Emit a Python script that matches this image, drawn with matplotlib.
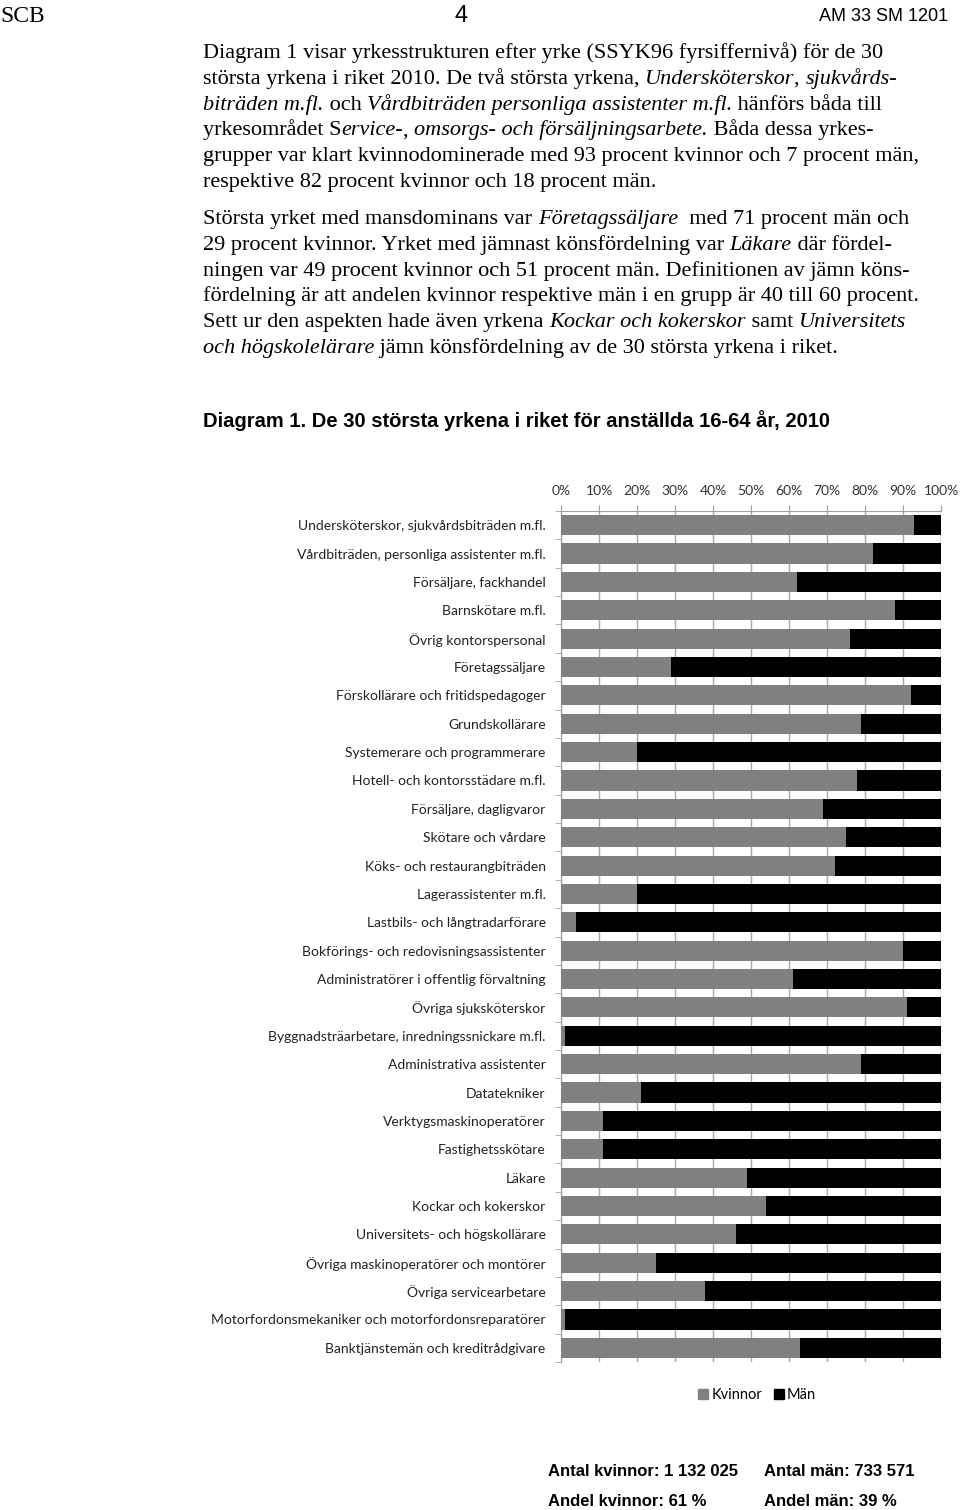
import matplotlib
matplotlib.use("Agg")
import matplotlib.pyplot as plt
from matplotlib.patches import Patch

W, H = 960, 1510
SERIF = ["Liberation Serif", "DejaVu Serif"]
NARROW = ["Liberation Sans Narrow", "Liberation Sans", "DejaVu Sans"]
CHART = ["Lato", "DejaVu Sans"]

occupations = [
    "Undersköterskor, sjukvårdsbiträden m.fl.",
    "Vårdbiträden, personliga assistenter m.fl.",
    "Försäljare, fackhandel",
    "Barnskötare m.fl.",
    "Övrig kontorspersonal",
    "Företagssäljare",
    "Förskollärare och fritidspedagoger",
    "Grundskollärare",
    "Systemerare och programmerare",
    "Hotell- och kontorsstädare m.fl.",
    "Försäljare, dagligvaror",
    "Skötare och vårdare",
    "Köks- och restaurangbiträden",
    "Lagerassistenter m.fl.",
    "Lastbils- och långtradarförare",
    "Bokförings- och redovisningsassistenter",
    "Administratörer i offentlig förvaltning",
    "Övriga sjuksköterskor",
    "Byggnadsträarbetare, inredningssnickare m.fl.",
    "Administrativa assistenter",
    "Datatekniker",
    "Verktygsmaskinoperatörer",
    "Fastighetsskötare",
    "Läkare",
    "Kockar och kokerskor",
    "Universitets- och högskollärare",
    "Övriga maskinoperatörer och montörer",
    "Övriga servicearbetare",
    "Motorfordonsmekaniker och motorfordonsreparatörer",
    "Banktjänstemän och kreditrådgivare",
]
kvinnor = [93, 82, 62, 88, 76, 29, 92, 79, 20, 78, 69, 75, 72, 20, 4,
           90, 61, 91, 1, 79, 21, 11, 11, 49, 54, 46, 25, 38, 1, 63]
man = [100 - k for k in kvinnor]

N, I = "normal", "italic"
para1 = [
    [("Diagram 1 visar yrkesstrukturen efter yrke (SSYK96 fyrsiffernivå) för de 30", N)],
    [("största yrkena i riket 2010. De två största yrkena, ", N), ("Undersköterskor", I), (", ", N),
     ("sjukvårds-", I)],
    [("biträden m.fl.", I), (" och ", N), ("Vårdbiträden personliga assistenter m.fl.", I),
     (" hänförs båda till", N)],
    [("yrkesområdet S", N), ("ervice-", I), (", ", N), ("omsorgs- och försäljningsarbete.", I),
     (" Båda dessa yrkes-", N)],
    [("grupper var klart kvinnodominerade med 93 procent kvinnor och 7 procent män,", N)],
    [("respektive 82 procent kvinnor och 18 procent män.", N)],
]
para2 = [
    [("Största yrket med mansdominans var ", N), ("Företagssäljare", I), ("  med 71 procent män och", N)],
    [("29 procent kvinnor. Yrket med jämnast könsfördelning var ", N), ("Läkare", I),
     (" där fördel-", N)],
    [("ningen var 49 procent kvinnor och 51 procent män. Definitionen av jämn köns-", N)],
    [("fördelning är att andelen kvinnor respektive män i en grupp är 40 till 60 procent.", N)],
    [("Sett ur den aspekten hade även yrkena ", N), ("Kockar och kokerskor", I), (" samt ", N),
     ("Universitets", I)],
    [("och högskolelärare", I), (" jämn könsfördelning av de 30 största yrkena i riket.", N)],
]


def fx(x):
    return x / W


def fy(y):
    return 1 - y / H


def text_width(fig, r, s, **kw):
    # pad with 'x' so leading/trailing spaces are counted
    t1 = fig.text(0, 0, "x" + s + "x", **kw)
    t2 = fig.text(0, 0, "xx", **kw)
    w = t1.get_window_extent(r).width - t2.get_window_extent(r).width
    t1.remove(); t2.remove()
    return w


def draw_line(fig, r, x, y, segs, size):
    for s, style in segs:
        kw = dict(fontsize=size, family=SERIF, style=style)
        fig.text(fx(x), fy(y), s, va="baseline", ha="left", **kw)
        x += text_width(fig, r, s, **kw)


def main():
    fig = plt.figure(figsize=(W / 100, H / 100), dpi=100)
    r = fig.canvas.get_renderer()

    # page header
    fig.text(fx(0), fy(22), "SCB", fontsize=17, family=SERIF, va="baseline")
    fig.text(fx(461), fy(22), "4", fontsize=17, family=NARROW, va="baseline", ha="center")
    fig.text(fx(948), fy(21), "AM 33 SM 1201", fontsize=13, family=NARROW, va="baseline", ha="right")

    # body text
    for i, segs in enumerate(para1):
        draw_line(fig, r, 203, 58 + i * 25.8, segs, 16)
    for i, segs in enumerate(para2):
        draw_line(fig, r, 203, 224 + i * 25.8, segs, 16)

    fig.text(fx(203), fy(427), "Diagram 1. De 30 största yrkena i riket för anställda 16-64 år, 2010",
             fontsize=14.5, family=NARROW, weight="bold", va="baseline")

    # chart
    ax = fig.add_axes([fx(561), fy(1362), (941 - 561) / W, (1362 - 511) / H])
    y = range(len(occupations))
    ax.barh(y, kvinnor, height=0.71, color="#808080", label="Kvinnor", zorder=3)
    ax.barh(y, man, left=kvinnor, height=0.71, color="#000000", label="Män", zorder=3)
    ax.set_xlim(0, 100)
    ax.set_ylim(len(occupations) - 0.5, -0.5)
    ax.xaxis.tick_top()
    ax.set_xticks(range(0, 101, 10))
    ax.set_xticklabels([f"{v}%" for v in range(0, 101, 10)], fontsize=10, family=CHART, color="#333333")
    ax.tick_params(axis="x", length=4, color="#a0a0a0", pad=6)
    ax.set_yticks(list(y))
    ax.set_yticklabels(occupations, fontsize=10, family=CHART, color="#222222")
    ax.tick_params(axis="y", which="major", length=0, pad=11)
    ax.set_yticks([i - 0.5 for i in range(len(occupations) + 1)], minor=True)
    ax.tick_params(axis="y", which="minor", length=4, color="#a0a0a0")
    ax.grid(axis="x", color="#a8a8a8", lw=1, zorder=0)
    ax.set_axisbelow(True)
    for side in ("right", "bottom"):
        ax.spines[side].set_visible(False)
    for side in ("top", "left"):
        ax.spines[side].set_color("#a0a0a0")

    handles = [Patch(color="#808080", label="Kvinnor"), Patch(color="#000000", label="Män")]
    fig.legend(handles=handles, loc="center", bbox_to_anchor=(fx(757), fy(1395)), ncol=2,
               frameon=False, handlelength=0.7, handleheight=0.7, handletextpad=0.2,
               columnspacing=0.8, prop={"family": CHART, "size": 10.5})

    # totals
    kw = dict(fontsize=12, family=NARROW, weight="bold", va="baseline")
    fig.text(fx(548), fy(1476), "Antal kvinnor: 1 132 025", **kw)
    fig.text(fx(764), fy(1476), "Antal män: 733 571", **kw)
    fig.text(fx(548), fy(1506), "Andel kvinnor: 61 %", **kw)
    fig.text(fx(764), fy(1506), "Andel män: 39 %", **kw)

    fig.savefig("out.png", dpi=100)
    plt.close(fig)


if __name__ == "__main__":
    main()
